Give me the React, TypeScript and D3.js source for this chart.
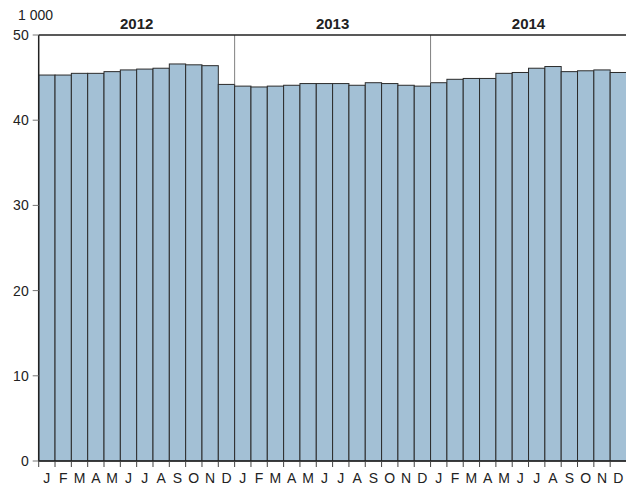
import * as d3 from 'd3';
import * as React from 'react';

const years = ['2012', '2013', '2014'];
const months = ['J', 'F', 'M', 'A', 'M', 'J', 'J', 'A', 'S', 'O', 'N', 'D'];
const values2012 = [45.3, 45.3, 45.5, 45.5, 45.7, 45.9, 46.0, 46.1, 46.6, 46.5, 46.4, 44.2];
const values2013 = [44.0, 43.9, 44.0, 44.1, 44.3, 44.3, 44.3, 44.1, 44.4, 44.3, 44.1, 44.0];
const values2014 = [44.4, 44.8, 44.9, 44.9, 45.5, 45.6, 46.1, 46.3, 45.7, 45.8, 45.9, 45.6];
const yTicks = [0, 10, 20, 30, 40, 50];
const unitLabel = '1 000';

const width = 626;
const height = 487;
const margin = {left: 38.7, right: -0.5, top: 35, bottom: 26};
const font = '"Liberation Sans", Arial, sans-serif';

export default function App() {
    const series = [values2012, values2013, values2014];
    const data = series.flatMap((vals, yi) => vals.map((v, mi) => ({key: `${yi}-${mi}`, year: yi, month: mi, value: v})));

    const x = d3.scaleBand<string>()
        .domain(data.map((d) => d.key))
        .range([margin.left, width - margin.right])
        .padding(0);
    const y = d3.scaleLinear()
        .domain([0, 50])
        .range([height - margin.bottom, margin.top]);

    const bottom = y(0);
    const bw = x.bandwidth();

    return (
        <svg width={width} height={height} style={{position: 'absolute', left: 0, top: 0}} fontFamily={font}>
            {/* bars */}
            {data.map((d) => (
                <rect key={d.key} x={x(d.key)} y={y(d.value)} width={bw} height={bottom - y(d.value)}
                    fill='#a3c0d5' stroke='#2b2b2b' strokeWidth={1} />
            ))}
            {/* year separators */}
            {years.slice(1).map((yr, i) => {
                const xx = x(`${i + 1}-0`)!;
                const prevTop = Math.min(y(series[i][11]), y(series[i + 1][0]));
                return <line key={yr} x1={xx} x2={xx} y1={margin.top} y2={prevTop} stroke='#808080' strokeWidth={1} />;
            })}
            {/* year labels */}
            {years.map((yr, i) => {
                const x0 = x(`${i}-0`)!;
                const x1 = x(`${i}-11`)! + bw;
                return (
                    <text key={yr} x={(x0 + x1) / 2} y={29} textAnchor='middle' fontSize={15} fontWeight='bold' fill='#222'>{yr}</text>
                );
            })}
            {/* top line */}
            <line x1={margin.left} x2={width} y1={margin.top} y2={margin.top} stroke='#222' strokeWidth={1.5} />
            {/* y axis */}
            <line x1={margin.left} x2={margin.left} y1={margin.top} y2={bottom} stroke='#222' strokeWidth={1.5} />
            {yTicks.map((t) => (
                <g key={t} transform={`translate(0,${y(t)})`}>
                    <line x1={margin.left - 6} x2={margin.left} y1={0} y2={0} stroke='#777' strokeWidth={1} />
                    <text x={margin.left - 10} y={5} textAnchor='end' fontSize={14} fill='#222'>{t}</text>
                </g>
            ))}
            <text x={18} y={20} fontSize={14} fill='#222'>{unitLabel}</text>
            {/* x axis */}
            <line x1={margin.left} x2={width} y1={bottom} y2={bottom} stroke='#222' strokeWidth={1.5} />
            {data.map((d) => (
                <g key={d.key}>
                    <line x1={x(d.key)} x2={x(d.key)} y1={bottom} y2={bottom + 6} stroke='#444' strokeWidth={1} />
                    <text x={x(d.key)! + bw / 2} y={bottom + 21.5} textAnchor='middle' fontSize={14} fill='#222'>{months[d.month]}</text>
                </g>
            ))}
        </svg>
    );
}
